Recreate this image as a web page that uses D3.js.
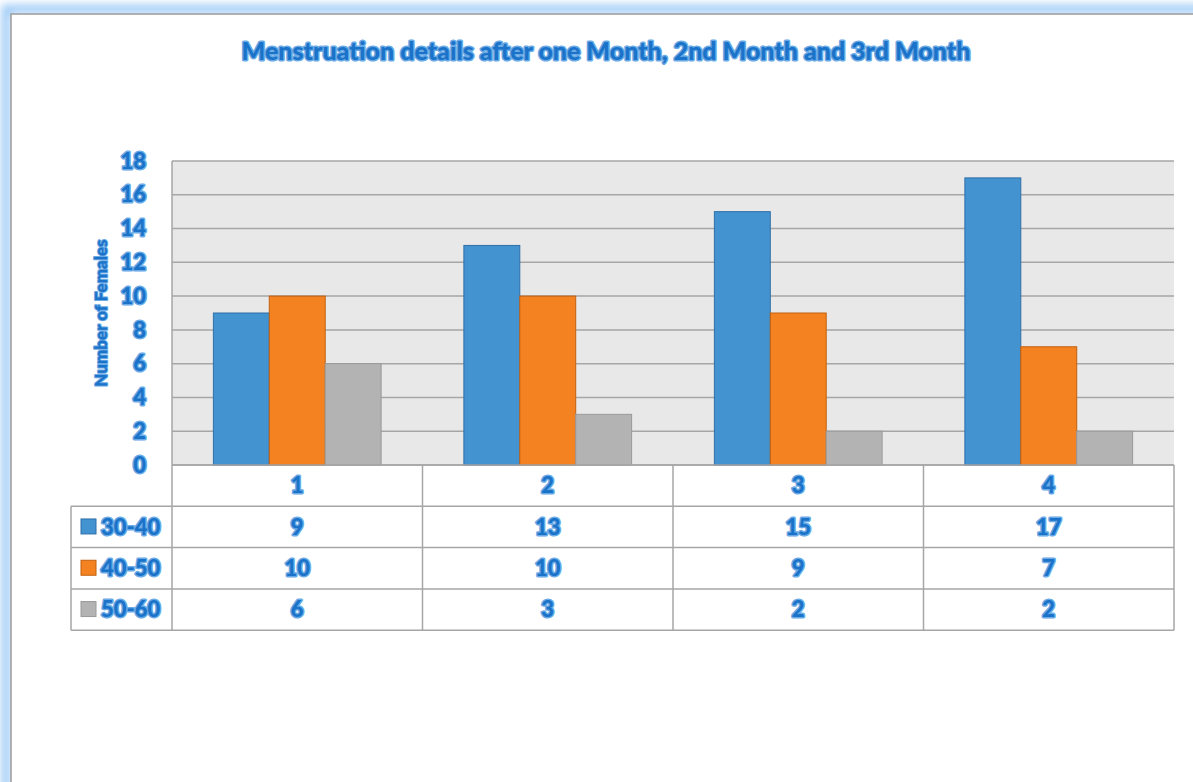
<!DOCTYPE html>
<html>
<head>
<meta charset="utf-8">
<script src="https://cdn.jsdelivr.net/npm/d3@7"></script>
<style>
  html, body { margin: 0; padding: 0; background: #fff; }
  svg { display: block; }
  .lbl { font-family: Lato, "Open Sans", sans-serif; font-weight: 900; fill: #1a73c8;
         stroke: #6aaae6; stroke-width: 3px; paint-order: stroke; stroke-linejoin: round; }
</style>
</head>
<body>
<div id="chart"></div>
<script>
const width = 1193;
const height = 782;

// data
const categories = ['1', '2', '3', '4'];
const seriesNames = ['30-40', '40-50', '50-60'];
const values3040 = [9, 13, 15, 17];
const values4050 = [10, 10, 9, 7];
const values5060 = [6, 3, 2, 2];
const yTicks = [0, 2, 4, 6, 8, 10, 12, 14, 16, 18];

const seriesValues = [values3040, values4050, values5060];
const fills = ['#4393d1', '#f58220', '#b3b3b3'];
const strokes = ['#2f6fa8', '#c2600f', '#9a9a9a'];

const svg = d3.select('#chart').append('svg')
  .attr('width', width)
  .attr('height', height);

// glow frame
const defs = svg.append('defs');
const blur = defs.append('filter').attr('id', 'glow').attr('x', '-5%').attr('y', '-5%').attr('width', '110%').attr('height', '110%');
blur.append('feGaussianBlur').attr('stdDeviation', 4);
svg.append('rect')
  .attr('x', 6).attr('y', 9).attr('width', width + 20).attr('height', height + 20)
  .attr('fill', 'none').attr('stroke', '#9fcbf7').attr('stroke-width', 9)
  .attr('filter', 'url(#glow)');
svg.append('rect')
  .attr('x', 11).attr('y', 14).attr('width', width + 20).attr('height', height + 20)
  .attr('fill', '#fff').attr('stroke', '#9a9a9a').attr('stroke-width', 1.5);

const plot = { left: 172, right: 1174, top: 161, bottom: 465 };

const x0 = d3.scaleBand()
  .domain(categories)
  .range([plot.left, plot.right])
  .paddingInner(0)
  .paddingOuter(0);

const x1 = d3.scaleBand()
  .domain(seriesNames)
  .range([0, x0.bandwidth()])
  .paddingOuter(0.74)
  .paddingInner(0);

const y = d3.scaleLinear()
  .domain([0, 18])
  .range([plot.bottom, plot.top]);

// plot background
svg.append('rect')
  .attr('x', plot.left).attr('y', plot.top)
  .attr('width', plot.right - plot.left).attr('height', plot.bottom - plot.top)
  .attr('fill', '#e8e8e8');

// gridlines
svg.append('g')
  .selectAll('line')
  .data(yTicks)
  .join('line')
  .attr('x1', plot.left).attr('x2', plot.right)
  .attr('y1', d => y(d)).attr('y2', d => y(d))
  .attr('stroke', '#a6a6a6').attr('stroke-width', 1.5);

svg.append('line')
  .attr('x1', plot.left).attr('x2', plot.left)
  .attr('y1', plot.top).attr('y2', plot.bottom)
  .attr('stroke', '#a6a6a6').attr('stroke-width', 1.5);

// bars
const groups = svg.append('g')
  .selectAll('g')
  .data(categories)
  .join('g')
  .attr('transform', d => `translate(${x0(d)},0)`);

groups.selectAll('rect')
  .data((c, i) => seriesNames.map((s, j) => ({ s, j, v: seriesValues[j][i] })))
  .join('rect')
  .attr('x', d => x1(d.s))
  .attr('y', d => y(d.v))
  .attr('width', x1.bandwidth())
  .attr('height', d => y(0) - y(d.v))
  .attr('fill', d => fills[d.j])
  .attr('stroke', d => strokes[d.j])
  .attr('stroke-width', 1);

// y tick labels
svg.append('g')
  .selectAll('text')
  .data(yTicks)
  .join('text')
  .attr('class', 'lbl')
  .attr('x', 146)
  .attr('y', d => y(d))
  .attr('dy', '0.35em')
  .attr('text-anchor', 'end')
  .style('font-size', '22px')
  .text(d => d);

// y axis title
svg.append('text')
  .attr('class', 'lbl')
  .attr('transform', `translate(107,${(plot.top + plot.bottom) / 2}) rotate(-90)`)
  .attr('text-anchor', 'middle')
  .style('font-size', '17px')
  .style('stroke-width', '2px')
  .text('Number of Females');

// title
svg.append('text')
  .attr('class', 'lbl')
  .attr('x', 606)
  .attr('y', 60)
  .attr('text-anchor', 'middle')
  .style('font-size', '25px')
  .text('Menstruation details after one Month, 2nd Month and 3rd Month');

// data table
const rowH = 41.3;
const tableLeft = 71;
const rowTop = i => plot.bottom + rowH * i;
const tbl = svg.append('g');
const gridColor = '#a6a6a6';

// horizontal lines
[0, 1, 2, 3, 4].forEach(i => {
  tbl.append('line')
    .attr('x1', i === 0 ? plot.left : tableLeft)
    .attr('x2', plot.right)
    .attr('y1', rowTop(i)).attr('y2', rowTop(i))
    .attr('stroke', gridColor).attr('stroke-width', 1.5);
});
// vertical lines
tbl.append('line')
  .attr('x1', tableLeft).attr('x2', tableLeft)
  .attr('y1', rowTop(1)).attr('y2', rowTop(4))
  .attr('stroke', gridColor).attr('stroke-width', 1.5);
categories.concat(['end']).forEach((c, i) => {
  const xx = i < categories.length ? x0(c) : plot.right;
  tbl.append('line')
    .attr('x1', xx).attr('x2', xx)
    .attr('y1', rowTop(0)).attr('y2', rowTop(4))
    .attr('stroke', gridColor).attr('stroke-width', 1.5);
});

// header row
tbl.selectAll('text.cat')
  .data(categories)
  .join('text')
  .attr('class', 'lbl cat')
  .attr('x', d => x0(d) + x0.bandwidth() / 2)
  .attr('y', rowTop(0) + rowH / 2)
  .attr('dy', '0.35em')
  .attr('text-anchor', 'middle')
  .style('font-size', '22px')
  .text(d => d);

// series rows
seriesNames.forEach((s, j) => {
  const cy = rowTop(j + 1) + rowH / 2;
  tbl.append('rect')
    .attr('x', 81).attr('y', cy - 8)
    .attr('width', 15).attr('height', 15)
    .attr('fill', fills[j]).attr('stroke', strokes[j]).attr('stroke-width', 1);
  tbl.append('text')
    .attr('class', 'lbl')
    .attr('x', 101)
    .attr('y', cy)
    .attr('dy', '0.35em')
    .style('font-size', '22px')
    .text(s);
  tbl.selectAll(null)
    .data(seriesValues[j])
    .join('text')
    .attr('class', 'lbl')
    .attr('x', (d, i) => x0(categories[i]) + x0.bandwidth() / 2)
    .attr('y', cy)
    .attr('dy', '0.35em')
    .attr('text-anchor', 'middle')
    .style('font-size', '22px')
    .text(d => d);
});
</script>
</body>
</html>
